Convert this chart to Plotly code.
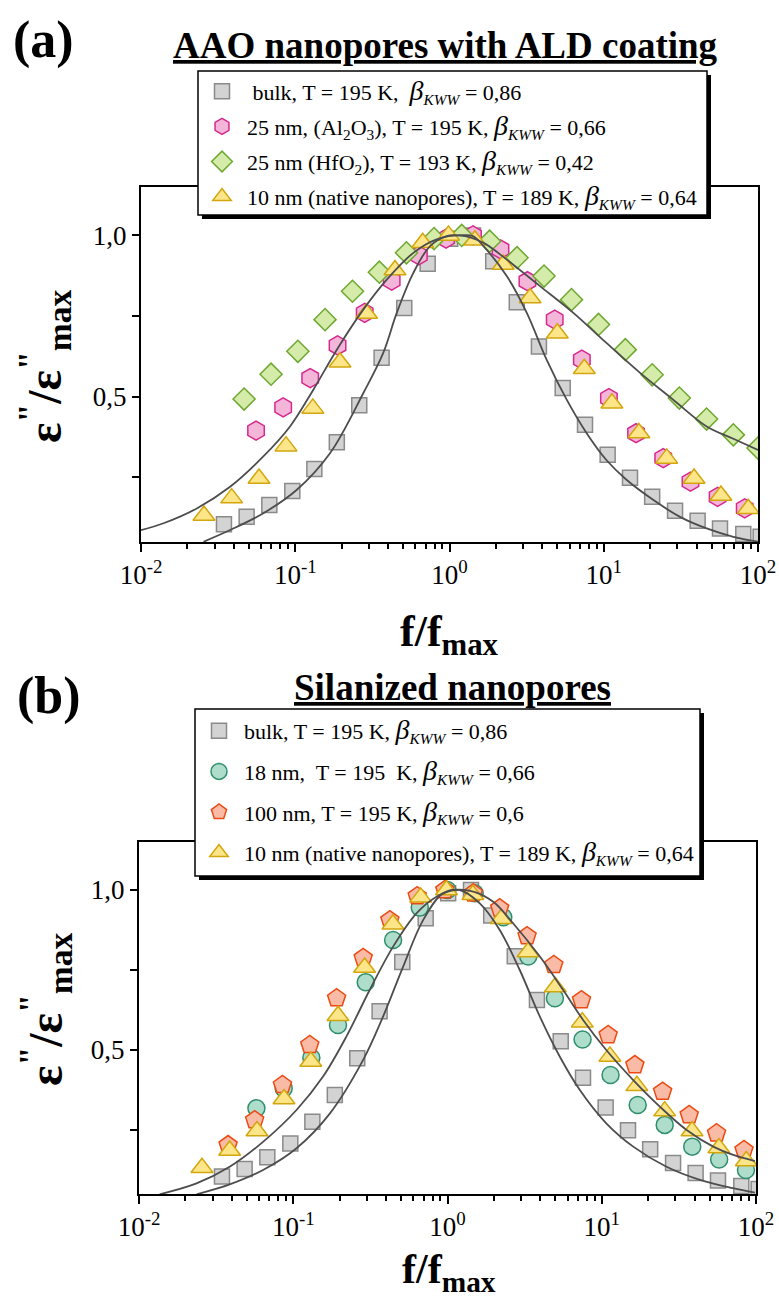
import plotly.graph_objects as go

W, H = 779, 1303
FONT = "Liberation Serif"

# ---------------- data ----------------
# shared bulk data (grey squares)
bulk_x = [0.0345, 0.0484, 0.0679, 0.0957, 0.133, 0.186, 0.260, 0.363, 0.509, 0.722, 1.01, 1.42,
          1.92, 2.73, 3.80, 5.42, 7.56, 10.6, 14.8, 20.6, 29.0, 40.6, 56.7, 80.3, 104]
bulk_y = [0.105, 0.128, 0.165, 0.208, 0.276, 0.359, 0.474, 0.621, 0.775, 0.912, 0.99, 1.0,
          0.920, 0.793, 0.656, 0.527, 0.413, 0.320, 0.249, 0.190, 0.147, 0.116, 0.092, 0.075, 0.066]

# 10 nm native nanopores (yellow triangles), shared
nat_x = [0.0256, 0.0387, 0.0582, 0.0871, 0.130, 0.195, 0.290, 0.443, 0.670, 0.985, 1.46, 2.23,
         3.33, 5.00, 7.48, 11.3, 16.9, 25.6, 38.5, 57.5, 86.5]
nat_y = [0.132, 0.186, 0.247, 0.347, 0.464, 0.607, 0.758, 0.893, 0.977, 1.0, 0.985, 0.91,
         0.806, 0.697, 0.587, 0.48, 0.388, 0.309, 0.247, 0.194, 0.153]

# (a) 25 nm Al2O3 (pink hexagons)
al_x = [0.0557, 0.0835, 0.125, 0.188, 0.282, 0.422, 0.633, 0.950, 1.42, 2.14, 3.20, 4.81, 7.21,
        10.8, 16.2, 24.3, 36.5, 54.7, 82.0]
al_y = [0.395, 0.467, 0.558, 0.659, 0.760, 0.860, 0.938, 0.99, 1.0, 0.957, 0.858, 0.739, 0.615,
        0.496, 0.387, 0.310, 0.237, 0.190, 0.154]

# (a) 25 nm HfO2 (green diamonds)
hf_x = [0.0466, 0.0697, 0.104, 0.156, 0.235, 0.351, 0.526, 0.794, 1.20, 1.82, 2.74, 4.10, 6.18,
        9.25, 13.8, 20.6, 30.9, 46.4, 69.2, 100]
hf_y = [0.493, 0.570, 0.641, 0.739, 0.827, 0.886, 0.946, 0.99, 1.0, 0.982, 0.931, 0.874, 0.801,
        0.724, 0.646, 0.568, 0.496, 0.431, 0.382, 0.341]

# (b) 18 nm silanized (teal circles)
s18_x = [0.0577, 0.0867, 0.131, 0.195, 0.295, 0.444, 0.661, 0.998, 1.50, 2.30, 3.34, 4.97, 7.51,
         11.4, 17.1, 25.6, 38.6, 57.7, 86.1]
s18_y = [0.318, 0.380, 0.476, 0.578, 0.712, 0.844, 0.945, 1.0, 0.990, 0.915, 0.792, 0.662, 0.533,
         0.422, 0.328, 0.266, 0.198, 0.158, 0.125]

# (b) 100 nm silanized (orange pentagons)
s100_x = [0.0378, 0.0562, 0.0851, 0.128, 0.191, 0.284, 0.423, 0.636, 0.961, 1.47, 2.18, 3.28,
          4.89, 7.39, 11.0, 16.4, 24.8, 36.9, 55.5, 83.6]
s100_y = [0.203, 0.281, 0.391, 0.516, 0.662, 0.788, 0.906, 0.981, 1.0, 0.99, 0.943, 0.856,
          0.766, 0.656, 0.547, 0.453, 0.370, 0.297, 0.240, 0.1875]

# KWW fit curves
fitA_narrow_x = [0.0254, 0.0378, 0.0621, 0.102, 0.168, 0.276, 0.372, 0.455, 0.583, 0.748, 0.959,
                 1.17, 1.42, 1.66, 2.35, 3.17, 4.26, 5.75, 7.75, 10.4, 14.1, 21.0, 31.2, 46.5,
                 69.2, 100]
fitA_narrow_y = [0.0506, 0.087, 0.139, 0.211, 0.325, 0.511, 0.636, 0.760, 0.884, 0.967, 0.998,
                 1.0, 0.998, 0.967, 0.874, 0.760, 0.615, 0.491, 0.387, 0.304, 0.242, 0.180,
                 0.128, 0.092, 0.066, 0.051]
fitA_broad_x = [0.01, 0.0140, 0.0230, 0.0378, 0.0621, 0.0925, 0.131, 0.186, 0.276, 0.392, 0.583,
                0.826, 1.17, 1.66, 2.35, 3.86, 6.35, 10.4, 17.2, 28.2, 46.5, 69.2, 100]
fitA_broad_y = [0.087, 0.108, 0.154, 0.221, 0.315, 0.408, 0.522, 0.646, 0.770, 0.863, 0.946,
                0.988, 1.0, 0.977, 0.925, 0.843, 0.760, 0.667, 0.574, 0.491, 0.408, 0.37, 0.335]
fitB_narrow_x = [0.0236, 0.0387, 0.0637, 0.105, 0.173, 0.284, 0.382, 0.515, 0.695, 0.936, 1.20,
                 1.62, 2.18, 2.94, 3.97, 5.35, 7.21, 10.7, 16.0, 26.3, 43.3, 71.1, 98.4]
fitB_narrow_y = [0.049, 0.080, 0.125, 0.193, 0.302, 0.469, 0.604, 0.760, 0.906, 0.990, 1.0,
                 0.958, 0.875, 0.75, 0.604, 0.479, 0.375, 0.271, 0.198, 0.135, 0.094, 0.068, 0.054]
fitB_broad_x = [0.0136, 0.0236, 0.0387, 0.0637, 0.105, 0.156, 0.221, 0.313, 0.444, 0.629, 0.849,
                1.11, 1.47, 1.98, 2.66, 3.97, 5.62, 7.57, 10.7, 16.0, 23.8, 35.5, 52.8, 71.1, 98.4]
fitB_broad_y = [0.049, 0.083, 0.135, 0.213, 0.3125, 0.417, 0.542, 0.6875, 0.823, 0.927, 0.979,
                1.0, 0.995, 0.963, 0.896, 0.792, 0.6875, 0.594, 0.5, 0.406, 0.323, 0.25, 0.198,
                0.172, 0.153]

x_tickvals = [0.01, 0.1, 1, 10, 100]
x_ticktext = ["10<sup>-2</sup>", "10<sup>-1</sup>", "10<sup>0</sup>", "10<sup>1</sup>", "10<sup>2</sup>"]
y_tickvals = [0.25, 0.5, 0.75, 1.0]
y_ticktext = ["", "0,5", "", "1,0"]

BETA = '<span style="font-size:28px"><i>β</i></span><sub><i>KWW</i></sub>'
names_a = [" bulk, T = 195 K,  " + BETA + " = 0,86",
           "25 nm, (Al<sub>2</sub>O<sub>3</sub>), T = 195 K, " + BETA + " = 0,66",
           "25 nm (HfO<sub>2</sub>), T = 193 K, " + BETA + " = 0,42",
           "10 nm (native nanopores), T = 189 K, " + BETA + " = 0,64"]
names_b = ["bulk, T = 195 K, " + BETA + " = 0,86",
           "18 nm,  T = 195  K, " + BETA + " = 0,66",
           "100 nm, T = 195 K, " + BETA + " = 0,6",
           "10 nm (native nanopores), T = 189 K, " + BETA + " = 0,64"]

STY = {
    "bulk": dict(symbol="square", size=15, color="#D3D3D3", line=dict(color="#8A8A8A", width=1.5)),
    "al": dict(symbol="hexagon", size=19, color="#F3B6D9", line=dict(color="#D6288E", width=1.5)),
    "hf": dict(symbol="diamond", size=17, color="#D5EBAA", line=dict(color="#6FA830", width=1.5)),
    "nat": dict(symbol="triangle-up", size=19, color="#FDE68A", line=dict(color="#D4A60E", width=1.5)),
    "s18": dict(symbol="circle", size=17, color="#AEDECB", line=dict(color="#2F8F6C", width=1.5)),
    "s100": dict(symbol="pentagon", size=19, color="#F9BBA6", line=dict(color="#EC4A12", width=1.5)),
}

fig = go.Figure()


def pts(x, y, name, key, xa, ya, leg):
    fig.add_trace(go.Scatter(x=x, y=y, mode="markers", name=name, legendgroup=leg + key,
                             marker=STY[key], xaxis=xa, yaxis=ya, legend=leg))


def curve(x, y, xa, ya):
    fig.add_trace(go.Scatter(x=x, y=y, mode="lines", showlegend=False, hoverinfo="skip",
                             line=dict(color="#4D4D4D", width=1.8, shape="spline", smoothing=1.0),
                             xaxis=xa, yaxis=ya))


# panel (a)
pts(bulk_x, bulk_y, names_a[0], "bulk", "x", "y", "legend")
pts(al_x, al_y, names_a[1], "al", "x", "y", "legend")
pts(hf_x, hf_y, names_a[2], "hf", "x", "y", "legend")
pts(nat_x, nat_y, names_a[3], "nat", "x", "y", "legend")
curve(fitA_narrow_x, fitA_narrow_y, "x", "y")
curve(fitA_broad_x, fitA_broad_y, "x", "y")

# panel (b)
pts(bulk_x, bulk_y, names_b[0], "bulk", "x2", "y2", "legend2")
pts(s18_x, s18_y, names_b[1], "s18", "x2", "y2", "legend2")
pts(s100_x, s100_y, names_b[2], "s100", "x2", "y2", "legend2")
pts(nat_x, nat_y, names_b[3], "nat", "x2", "y2", "legend2")
curve(fitB_narrow_x, fitB_narrow_y, "x2", "y2")
curve(fitB_broad_x, fitB_broad_y, "x2", "y2")

minor_vals = [m * 10.0 ** e for e in range(-2, 2) for m in range(2, 10)]


def xax(left, right, anchor):
    return dict(domain=[left / W, right / W], anchor=anchor, type="log", range=[-2, 2],
                automargin=False,
                showline=True, linecolor="black", linewidth=2, mirror=True,
                ticks="outside", ticklen=8, tickwidth=2, tickcolor="black",
                tickmode="array", tickvals=x_tickvals, ticktext=x_ticktext,
                tickfont=dict(family=FONT, size=27, color="black"),
                showgrid=False, zeroline=False,
                minor=dict(tickmode="array", tickvals=minor_vals, ticks="outside", ticklen=5,
                           tickwidth=1.5, tickcolor="black", showgrid=False))


def yax(top, bottom, anchor):
    return dict(domain=[1 - bottom / H, 1 - top / H], anchor=anchor, range=[0.05, 1.15],
                automargin=False,
                showline=True, linecolor="black", linewidth=2, mirror=True,
                ticks="outside", ticklen=7, tickwidth=2, tickcolor="black",
                tickmode="array", tickvals=y_tickvals, ticktext=y_ticktext,
                tickfont=dict(family=FONT, size=27, color="black"),
                showgrid=False, zeroline=False)


def ann(text, x, y, size, angle=0):
    return dict(text=text, x=x / W, y=1 - y / H, xref="paper", yref="paper", showarrow=False,
                xanchor="center", yanchor="middle", textangle=angle,
                font=dict(family=FONT, size=size, color="black"))


def rect(x0, y0, x1, y1, fill, lw):
    return dict(type="rect", xref="paper", yref="paper", x0=x0 / W, x1=x1 / W,
                y0=1 - y1 / H, y1=1 - y0 / H, fillcolor=fill,
                line=dict(color="black", width=lw), layer="above")


YT = '<b>ε<sup>"</sup>/ε<sup>"</sup><sub>max</sub></b>'
XT = "<b>f/f<sub>max</sub></b>"

legend_common = dict(xanchor="left", yanchor="top", bgcolor="rgba(0,0,0,0)", borderwidth=0,
                     font=dict(family=FONT, size=22, color="black"), itemwidth=40,
                     traceorder="grouped")

fig.update_layout(
    width=W, height=H, margin=dict(l=0, r=0, t=0, b=0, autoexpand=False),
    paper_bgcolor="white", plot_bgcolor="white",
    xaxis=xax(141, 758, "y"), yaxis=yax(187, 542, "x"),
    xaxis2=xax(139, 756, "y2"), yaxis2=yax(842, 1194, "x2"),
    legend=dict(x=197 / W, y=1 - 70.5 / H, tracegroupgap=3.5, **legend_common),
    legend2=dict(x=194 / W, y=1 - 710 / H, tracegroupgap=9, **legend_common),
    shapes=[rect(202, 75, 711, 219, "black", 0), rect(198, 71, 707, 215, "white", 1.5),
            rect(199, 713, 704, 880, "black", 0), rect(195, 709, 700, 876, "white", 1.5)],
    annotations=[
        ann("<b>(a)</b>", 43, 40, 52),
        ann("<b><u>AAO nanopores with ALD coating</u></b>", 445, 45, 37),
        ann("<b>(b)</b>", 49, 696, 52),
        ann("<b><u>Silanized nanopores</u></b>", 453, 688, 37),
        ann(YT, 45, 367, 48, -90),
        ann(YT, 45, 1010, 48, -90),
        ann(XT, 449, 634, 44),
        ann(XT, 449, 1272, 42),
    ],
)

fig.write_html("out.html", config={"displayModeBar": False},
               post_script="document.body.style.margin='0';document.body.style.padding='0';")
